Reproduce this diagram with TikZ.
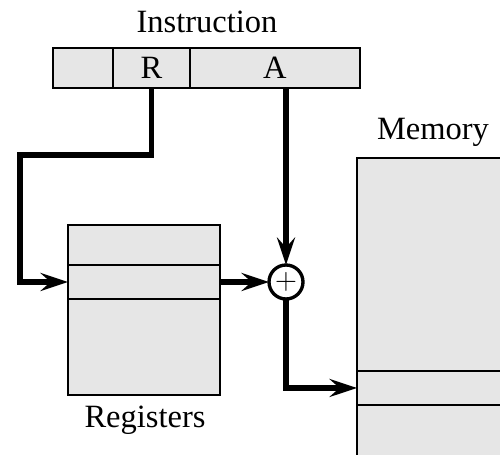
\documentclass[tikz,border=0pt]{standalone}
\usepackage{fontspec}
\setmainfont{Liberation Serif}
\usepackage{tikz}
\usetikzlibrary{arrows.meta, positioning, calc}
\definecolor{cellgray}{RGB}{230,230,230}

\begin{document}
\begin{tikzpicture}[
  x=0.02cm, y=-0.02cm,
  every node/.style={font=\fontsize{18.5}{22}\selectfont, inner sep=0pt, outer sep=0pt},
  cell/.style={draw, line width=1.6pt, fill=cellgray},
  flow/.style={line width=3.2pt, -{Stealth[length=0.55cm, width=0.36cm, inset=0.2cm]}},
  adder/.style={draw, circle, line width=1.9pt, fill=white, minimum size=0.68cm}
]
  \useasboundingbox (0,0) rectangle (500,455);
  \clip (0,0) rectangle (500,455);

  % instruction word
  \node[cell, minimum width=1.2cm, minimum height=0.8cm] (fld0) at (83,68) {};
  \node[cell, minimum width=1.54cm, minimum height=0.8cm, right=0pt of fld0] (fldR) {R};
  \node[cell, minimum width=3.4cm, minimum height=0.8cm, right=0pt of fldR] (fldA) {A};
  \node (instr) at (207,22) {Instruction};

  % register file
  \node[cell, minimum width=3.04cm, minimum height=0.8cm] (reg1) at (144,245) {};
  \node[cell, minimum width=3.04cm, minimum height=0.68cm, below=0pt of reg1] (reg2) {};
  \node[cell, minimum width=3.04cm, minimum height=1.92cm, below=0pt of reg2] (reg3) {};
  \node (regs) at (145,420) {Registers};

  % memory
  \node[cell, minimum width=3.66cm, minimum height=4.26cm] (mem1) at (448.5,264.5) {};
  \node[cell, minimum width=3.66cm, minimum height=0.68cm, below=0pt of mem1] (mem2) {};
  \node[cell, minimum width=3.66cm, minimum height=1.6cm, below=0pt of mem2] (mem3) {};
  \node (mems) at (433,132) {Memory};

  \node[adder] (add) at (286,282) {$+$};
  \coordinate (bendR) at (20,155);

  \draw[flow] (fldR.south) |- (bendR) |- (reg2.west);
  \draw[flow] (fldA.south -| add) -- (add.north);
  \draw[flow] (reg2.east) -- (add.west);
  \draw[flow] (add.south) |- (mem2.west);
\end{tikzpicture}
\end{document}
